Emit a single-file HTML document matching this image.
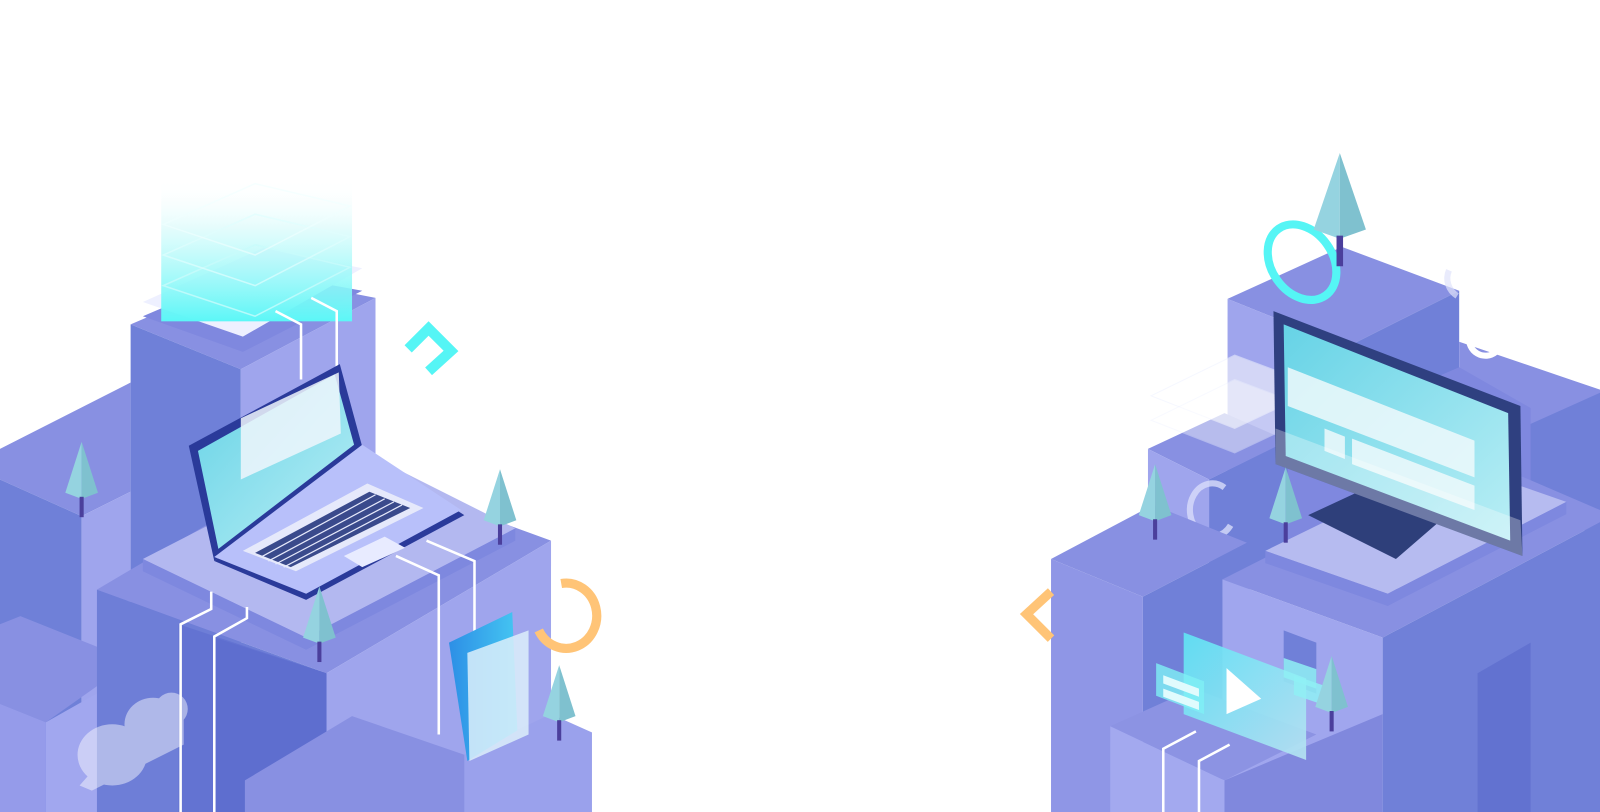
<!DOCTYPE html>
<html><head><meta charset="utf-8"><style>
html,body{margin:0;padding:0;background:#fff;width:1600px;height:812px;overflow:hidden}
svg{display:block}
</style></head><body>
<svg width="1600" height="812" viewBox="0 0 1568 796" preserveAspectRatio="none" xmlns="http://www.w3.org/2000/svg">
<defs>
<linearGradient id="glow" x1="0" y1="0" x2="0" y2="1">
<stop offset="0" stop-color="#ffffff" stop-opacity="0"/>
<stop offset="0.35" stop-color="#d8fbfb" stop-opacity="0.7"/>
<stop offset="1" stop-color="#5cf7f7"/>
</linearGradient>
<linearGradient id="scr" x1="0" y1="0" x2="1" y2="1">
<stop offset="0" stop-color="#66d3e6"/><stop offset="1" stop-color="#b9eef5"/>
</linearGradient>
<linearGradient id="vid" x1="0" y1="0" x2="1" y2="1">
<stop offset="0" stop-color="#5fe6f5"/><stop offset="1" stop-color="#b7e4f2"/>
</linearGradient>
<linearGradient id="tab" x1="0" y1="0" x2="1" y2="0">
<stop offset="0" stop-color="#2d8fe6"/><stop offset="1" stop-color="#45c6f2"/>
</linearGradient>
<g id="tree">
<polygon points="0,0 -16,50 0,56" fill="#95d3e0"/>
<polygon points="0,0 16,50 0,56" fill="#7fc1cf"/>
<rect x="-2" y="54" width="4" height="20" fill="#4b3f9c"/>
</g>
</defs>

<!-- ============ LEFT ============ -->
<polygon points="0,440 128,375 128,482 80,506 0,470" fill="#8890e2"/>
<polygon points="0,470 80,506 80,796 0,796" fill="#6f80d8"/>
<polygon points="80,506 128,482 128,796 80,796" fill="#9fa5ed"/>

<polygon points="128,318 245,268 368,292 236,362" fill="#8890e2"/>
<polygon points="128,318 236,362 236,796 128,796" fill="#6f80d8"/>
<polygon points="236,362 368,292 368,600 236,600" fill="#9fa5ed"/>
<polygon points="140,310 245,265 355,285 238,345" fill="#7f88df"/>

<polygon points="140,296 258,243 355,263 238,330" fill="#eef0ff"/>
<rect x="158" y="175" width="187" height="140" fill="url(#glow)"/>
<polygon points="160,280 250,240 343,262 250,310" fill="none" stroke="#c8fbfb" stroke-width="1.5" opacity="0.8"/>
<polygon points="160,250 250,210 343,232 250,280" fill="none" stroke="#e0fdfd" stroke-width="1.5" opacity="0.7"/>
<polygon points="160,220 250,180 343,202 250,250" fill="none" stroke="#f0ffff" stroke-width="1.5" opacity="0.6"/>

<polygon points="0,612 20,604 130,648 45,708 0,690" fill="#8890e2"/>
<polygon points="0,690 45,708 45,796 0,796" fill="#959bea"/>
<polygon points="45,708 130,660 130,796 45,796" fill="#a1a7ef"/>

<polygon points="95,578 315,448 540,530 320,660" fill="#8890e2"/>
<polygon points="95,578 320,660 320,796 95,796" fill="#6e7ed7"/>
<polygon points="320,660 540,530 540,796 320,796" fill="#9fa5ed"/>
<polygon points="175,612 320,660 320,796 175,796" fill="#6373d2"/>
<polygon points="210,625 320,660 320,796 210,796" fill="#5e6ecf"/>
<polygon points="140,548 350,440 505,518 300,625" fill="#b3b8f0"/>
<polygon points="140,560 300,637 505,530 505,518 300,625 140,548" fill="#7e88df"/>

<polygon points="240,765 345,702 470,745 580,718 580,796 240,796" fill="#8890e2"/>
<polygon points="455,740 540,700 580,718 580,796 455,796" fill="#9aa1ec"/>

<g fill="#ffffff" opacity="0.45">
<ellipse cx="110" cy="740" rx="34" ry="30"/>
<ellipse cx="150" cy="710" rx="28" ry="26"/>
<ellipse cx="168" cy="695" rx="16" ry="16"/>
<polygon points="78,770 100,745 180,700 180,730 90,775"/>
</g>

<g fill="none" stroke="#ffffff" stroke-width="2.5">
<polyline points="270,305 295,318 295,372"/>
<polyline points="305,292 330,305 330,360"/>
<polyline points="207,580 207,597 177,612 177,796"/>
<polyline points="242,595 242,606 210,624 210,796"/>
<polyline points="388,545 430,564 430,720"/>
<polyline points="418,530 465,550 465,640"/>
</g>

<polygon points="185,437 333,357 355,438 210,550" fill="#2a3a9a"/>
<polygon points="194,442 328,367 347,436 214,538" fill="url(#scr)"/>
<polygon points="236,410 332,365 334,425 236,470" fill="#eef6fb" opacity="0.85"/>
<polygon points="210,550 355,440 455,505 300,588" fill="#2a3a9a"/>
<polygon points="210,546 355,436 452,500 300,582" fill="#b8c0fa"/>
<polygon points="238,540 360,474 415,498 290,560" fill="#e6e9fb"/>
<polygon points="250,542 362,482 402,498 285,556" fill="#3a4a8c"/>
<g stroke="#e6e9fb" stroke-width="1.2">
<line x1="256" y1="546" x2="368" y2="485"/><line x1="263" y1="550" x2="377" y2="489"/><line x1="270" y1="553" x2="386" y2="492"/><line x1="278" y1="556" x2="394" y2="495"/>
</g>
<polygon points="337,545 377,526 397,537 355,556" fill="#e8ebff"/>

<polygon points="440,630 502,600 507,716 458,746" fill="url(#tab)"/>
<polygon points="458,640 518,618 518,720 460,746" fill="#dceefa" opacity="0.85"/>

<polyline points="400,342 420,322 442,344 420,364" fill="none" stroke="#55f5f5" stroke-width="10"/>
<path d="M550,572 A30,32 0 1 1 528,618" fill="none" stroke="#ffc477" stroke-width="9"/>

<use href="#tree" x="80" y="433"/>
<use href="#tree" x="490" y="460"/>
<use href="#tree" x="313" y="575"/>
<use href="#tree" x="548" y="652"/>

<!-- ============ RIGHT ============ -->
<polygon points="1203,293 1315,242 1430,285 1320,340" fill="#8890e2"/>
<polygon points="1203,293 1320,340 1320,470 1203,470" fill="#9fa5ed"/>
<polygon points="1320,340 1430,285 1430,470 1320,470" fill="#7080d8"/>
<polygon points="1430,335 1568,382 1568,520 1430,470" fill="#8890e2"/>
<polygon points="1490,420 1568,385 1568,520 1490,520" fill="#7080d8"/>

<!-- filler behind monitor -->
<polygon points="1185,470 1262,432 1430,360 1500,400 1500,520 1240,570 1200,590 1185,590" fill="#7f88df"/>

<polygon points="1125,440 1200,405 1262,432 1185,470" fill="#8890e2"/>
<polygon points="1125,440 1185,470 1185,540 1125,540" fill="#9fa5ed"/>
<polygon points="1185,470 1262,432 1262,560 1185,560" fill="#7080d8"/>
<path d="M1200,478 A22,26 0 1 0 1206,515" fill="none" stroke="#d8dcfa" stroke-width="6" opacity="0.8"/>

<polygon points="1128,388 1210,348 1295,380 1210,420" fill="#ffffff" opacity="0.55" stroke="#eef2ff"/>
<polygon points="1128,412 1210,372 1295,404 1210,444" fill="#ffffff" opacity="0.4" stroke="#eef2ff"/>

<polygon points="1030,548 1130,495 1222,532 1120,585" fill="#8890e2"/>
<polygon points="1030,548 1120,585 1120,796 1030,796" fill="#8f96e6"/>
<polygon points="1120,585 1222,532 1222,796 1120,796" fill="#7080d8"/>

<polygon points="1198,568 1440,445 1568,500 1568,512 1355,625" fill="#8890e2"/>
<polygon points="1198,568 1355,625 1355,796 1198,796" fill="#a0a6ee"/>
<polygon points="1355,625 1568,512 1568,796 1355,796" fill="#7080d8"/>
<polygon points="1448,660 1500,630 1500,796 1448,796" fill="#6272d0"/>
<polygon points="1258,618 1290,630 1290,680 1258,668" fill="#7080d8"/>
<polygon points="1240,540 1420,452 1535,492 1360,582" fill="#b6bbf0"/>
<polygon points="1240,552 1360,594 1535,504 1535,492 1360,582 1240,540" fill="#7e88df"/>

<polygon points="1282,505 1340,478 1412,510 1368,548" fill="#2e3f7a"/>
<polygon points="1248,305 1490,398 1492,545 1250,455" fill="#2f4080"/>
<polygon points="1258,318 1478,405 1480,530 1260,447" fill="url(#scr)"/>
<polygon points="1262,360 1445,432 1445,468 1262,398" fill="#eef9fc" opacity="0.85"/>
<polygon points="1298,420 1318,428 1318,450 1298,442" fill="#eef9fc" opacity="0.85"/>
<polygon points="1325,430 1445,476 1445,500 1325,455" fill="#eef9fc" opacity="0.85"/>
<polygon points="1250,420 1490,510 1492,545 1250,455" fill="#ffffff" opacity="0.3"/>

<ellipse cx="1276" cy="257" rx="30" ry="40" transform="rotate(-35 1276 257)" fill="none" stroke="#55f5f5" stroke-width="8"/>
<path d="M1440,330 A16,16 0 0 0 1466,345" fill="none" stroke="#ffffff" stroke-width="6"/>
<path d="M1420,265 A20,20 0 0 0 1428,290" fill="none" stroke="#dfe2fb" stroke-width="6" opacity="0.7"/>
<polyline points="1030,580 1006,602 1030,626" fill="none" stroke="#ffc477" stroke-width="9"/>

<polygon points="1088,712 1170,675 1290,720 1200,765" fill="#8c93e3"/>
<polygon points="1088,712 1200,765 1200,796 1088,796" fill="#a3a9ef"/>
<polygon points="1200,765 1355,700 1355,796 1200,796" fill="#8088dd"/>
<polygon points="1160,620 1280,665 1280,745 1160,700" fill="url(#vid)" opacity="0.9"/>
<polygon points="1133,650 1180,668 1180,700 1133,682" fill="#7ff0f5" opacity="0.8"/>
<polygon points="1140,662 1175,675 1175,683 1140,670" fill="#e0fbfd"/>
<polygon points="1140,675 1175,688 1175,696 1140,683" fill="#e0fbfd"/>
<polygon points="1202,655 1236,685 1202,700" fill="#ffffff"/>
<polygon points="1258,645 1290,656 1290,675 1258,664" fill="#8ff0f5" opacity="0.85"/>
<polygon points="1268,662 1300,673 1300,692 1268,681" fill="#8ff0f5" opacity="0.85"/>
<g fill="none" stroke="#ffffff" stroke-width="2.5">
<polyline points="1172,717 1140,734 1140,796"/>
<polyline points="1205,730 1175,746 1175,796"/>
</g>

<use href="#tree" x="1313" y="150" transform="translate(1313 150) scale(1.6 1.5) translate(-1313 -150)"/>
<use href="#tree" x="1132" y="455"/>
<use href="#tree" x="1260" y="458"/>
<use href="#tree" x="1305" y="643"/>
</svg>
</body></html>
